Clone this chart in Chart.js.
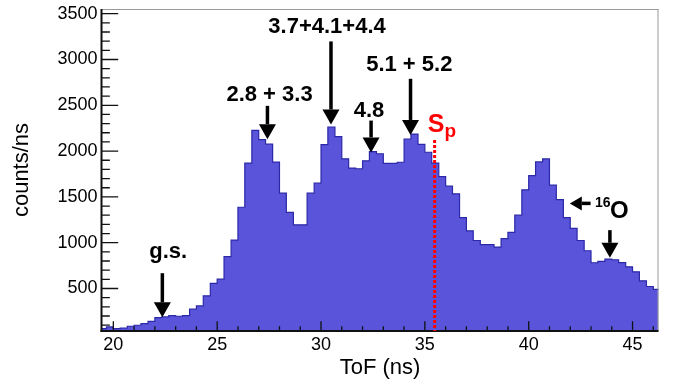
<!DOCTYPE html>
<html>
<head>
<meta charset="utf-8">
<script src="https://cdn.jsdelivr.net/npm/chart.js@4.4.0/dist/chart.umd.min.js"></script>
<style>
    html, body { margin: 0; padding: 0; background: #ffffff; }
    #wrap { width: 678px; height: 386px; }
</style>
</head>
<body>
<div id="wrap"><canvas id="tofChart" width="678" height="386"></canvas></div>
<script>
// Datos del histograma (borde inferior de cada bin en ns, cuentas/ns)
const binLow = [
    19.33, 19.67, 20.00, 20.33, 20.67, 21.00, 21.33, 21.67, 22.00, 22.33,
    22.67, 23.00, 23.33, 23.67, 24.00, 24.33, 24.67, 25.00, 25.33, 25.67,
    26.00, 26.33, 26.67, 27.00, 27.33, 27.67, 28.00, 28.33, 28.67, 29.00,
    29.33, 29.67, 30.00, 30.33, 30.67, 31.00, 31.33, 31.67, 32.00, 32.33,
    32.67, 33.00, 33.33, 33.67, 34.00, 34.33, 34.67, 35.00, 35.33, 35.67,
    36.00, 36.33, 36.67, 37.00, 37.33, 37.67, 38.00, 38.33, 38.67, 39.00,
    39.33, 39.67, 40.00, 40.33, 40.67, 41.00, 41.33, 41.67, 42.00, 42.33,
    42.67, 43.00, 43.33, 43.67, 44.00, 44.33, 44.67, 45.00, 45.33, 45.67,
    46.00
];
const binHigh = 46.33;
const counts = [
    62, 80, 62, 69, 88, 99, 117, 142, 182, 190,
    204, 197, 204, 274, 310, 420, 555, 602, 847, 1029,
    1387, 1869, 2226, 2124, 2075, 1880, 1540, 1332, 1195, 1195,
    1540, 1650, 2070, 2263, 2158, 1915, 1814, 1807, 1894, 1994,
    1971, 1865, 1865, 1878, 2132, 2186, 2074, 1987, 1869, 1722,
    1617, 1533, 1274, 1130, 1024, 978, 978, 952, 1044, 1113,
    1300, 1577, 1732, 1882, 1914, 1628, 1471, 1274, 1157, 1024,
    912, 781, 795, 821, 814, 783, 737, 682, 584, 522,
    491
];

// Marcas de los ejes
const xTicks = [20, 25, 30, 35, 40, 45];
const yTicks = [500, 1000, 1500, 2000, 2500, 3000, 3500];
const xMinorTicks = [21, 22, 23, 24, 26, 27, 28, 29, 31, 32, 33, 34, 36, 37, 38, 39, 41, 42, 43, 44, 46];
const yMinorTicks = [100, 200, 300, 400, 600, 700, 800, 900, 1100, 1200, 1300, 1400, 1600, 1700, 1800, 1900,
    2100, 2200, 2300, 2400, 2600, 2700, 2800, 2900, 3100, 3200, 3300, 3400];

// Anotaciones (coordenadas en unidades de datos: ns, cuentas)
const peakLabels = [
    { text: 'g.s.', x: 22.64, y: 837 },
    { text: '2.8 + 3.3', x: 27.52, y: 2549 },
    { text: '3.7+4.1+4.4', x: 30.29, y: 3289 },
    { text: '4.8', x: 32.31, y: 2377 },
    { text: '5.1 + 5.2', x: 34.25, y: 2876 }
];
const downArrows = [
    { x: 22.36, from: 667, to: 186 },
    { x: 27.42, from: 2494, to: 2130 },
    { x: 30.48, from: 3197, to: 2290 },
    { x: 32.41, from: 2333, to: 1985 },
    { x: 34.31, from: 2789, to: 2176 },
    { x: 43.91, from: 1137, to: 835 }
];
const sepEnergy = 35.47;   // S_p
const oxygenArrow = { from: 42.98, to: 41.98, y: 1429 };

const FONT = '"Liberation Sans", Arial, Helvetica, sans-serif';
Chart.defaults.font.family = FONT;

function drawArrow(ctx, x1, y1, x2, y2, headLen, headWidth, lineWidth) {
    const ang = Math.atan2(y2 - y1, x2 - x1);
    const cos = Math.cos(ang), sin = Math.sin(ang);
    const bx = x2 - headLen * cos, by = y2 - headLen * sin;
    ctx.lineWidth = lineWidth;
    ctx.beginPath();
    ctx.moveTo(x1, y1);
    ctx.lineTo(bx, by);
    ctx.stroke();
    ctx.beginPath();
    ctx.moveTo(x2, y2);
    ctx.lineTo(bx - sin * headWidth / 2, by + cos * headWidth / 2);
    ctx.lineTo(bx + sin * headWidth / 2, by - cos * headWidth / 2);
    ctx.closePath();
    ctx.fill();
}

// Plugin: marco estilo ROOT con ticks hacia dentro y anotaciones
const rootStyle = {
    id: 'rootStyle',
    afterDatasetsDraw(chart) {
        const ctx = chart.ctx;
        const area = chart.chartArea;
        const xs = chart.scales.x;
        const ys = chart.scales.y;
        ctx.save();

        // ticks
        ctx.strokeStyle = '#111';
        ctx.lineWidth = 1.3;
        const yLen = (area.right - area.left) * 0.03;
        const xLen = (area.bottom - area.top) * 0.03;
        ctx.beginPath();
        yTicks.forEach(v => {
            const py = ys.getPixelForValue(v);
            ctx.moveTo(area.left, py);
            ctx.lineTo(area.left + yLen, py);
        });
        yMinorTicks.forEach(v => {
            const py = ys.getPixelForValue(v);
            ctx.moveTo(area.left, py);
            ctx.lineTo(area.left + yLen / 2, py);
        });
        xTicks.forEach(v => {
            const px = xs.getPixelForValue(v);
            ctx.moveTo(px, area.bottom);
            ctx.lineTo(px, area.bottom - xLen);
        });
        xMinorTicks.forEach(v => {
            const px = xs.getPixelForValue(v);
            ctx.moveTo(px, area.bottom);
            ctx.lineTo(px, area.bottom - xLen / 2);
        });
        ctx.stroke();

        // marco: arriba y derecha en gris, ejes en negro
        ctx.fillStyle = '#999';
        ctx.fillRect(area.left, area.top, area.right - area.left, 1);
        ctx.fillRect(area.right - 1, area.top, 1, area.bottom - area.top);
        ctx.fillStyle = '#111';
        ctx.fillRect(area.left - 1, area.top, 2, area.bottom - area.top + 1);
        ctx.fillRect(area.left - 1, area.bottom - 1, area.right - area.left + 1, 2);

        // línea S_p
        const sx = xs.getPixelForValue(sepEnergy);
        ctx.strokeStyle = '#ff0000';
        ctx.lineWidth = 3;
        ctx.setLineDash([3, 2]);
        ctx.beginPath();
        ctx.moveTo(sx, ys.getPixelForValue(2122));
        ctx.lineTo(sx, area.bottom);
        ctx.stroke();
        ctx.setLineDash([]);

        ctx.fillStyle = '#ff0000';
        ctx.textAlign = 'left';
        ctx.textBaseline = 'alphabetic';
        ctx.font = 'bold 25px ' + FONT;
        const sLeft = xs.getPixelForValue(35.14);
        const sBase = ys.getPixelForValue(2213);
        ctx.fillText('S', sLeft, sBase);
        const sW = ctx.measureText('S').width;
        ctx.font = 'bold 19px ' + FONT;
        ctx.fillText('p', sLeft + sW, sBase + 5);

        // flechas y etiquetas de picos
        ctx.fillStyle = '#000';
        ctx.strokeStyle = '#000';
        downArrows.forEach(d => {
            const px = xs.getPixelForValue(d.x);
            drawArrow(ctx, px, ys.getPixelForValue(d.from), px, ys.getPixelForValue(d.to), 15, 17, 3.5);
        });
        ctx.font = 'bold 22px ' + FONT;
        ctx.textAlign = 'center';
        peakLabels.forEach(l => {
            ctx.fillText(l.text, xs.getPixelForValue(l.x), ys.getPixelForValue(l.y));
        });

        // 16O
        const oy = ys.getPixelForValue(oxygenArrow.y);
        drawArrow(ctx, xs.getPixelForValue(oxygenArrow.from), oy, xs.getPixelForValue(oxygenArrow.to), oy, 12, 14, 3.5);
        ctx.textAlign = 'left';
        ctx.font = 'bold 14px ' + FONT;
        ctx.fillText('16', xs.getPixelForValue(43.19), ys.getPixelForValue(1386));
        ctx.font = 'bold 24px ' + FONT;
        ctx.fillText('O', xs.getPixelForValue(43.91), ys.getPixelForValue(1265));

        ctx.restore();
    }
};

const points = binLow.map((v, i) => ({ x: v, y: counts[i] }));
points.push({ x: binHigh, y: counts[counts.length - 1] });

new Chart(document.getElementById('tofChart'), {
    type: 'line',
    data: {
        datasets: [{
            data: points,
            stepped: true,
            fill: 'origin',
            backgroundColor: '#5954d9',
            borderColor: '#2c29a8',
            borderWidth: 1.2,
            pointRadius: 0
        }]
    },
    options: {
        responsive: false,
        animation: false,
        layout: { padding: { top: 9, right: 19.5, bottom: 0, left: 0 } },
        plugins: {
            legend: { display: false },
            tooltip: { enabled: false }
        },
        scales: {
            x: {
                type: 'linear',
                min: 19.43,
                max: 46.25,
                afterBuildTicks: s => { s.ticks = xTicks.map(v => ({ value: v })); },
                afterFit: s => { s.height = 55; s.paddingLeft = 0; s.paddingRight = 0; },
                grid: { display: false, drawTicks: false },
                border: { display: false },
                ticks: {
                    color: '#000', padding: 3, maxRotation: 0, autoSkip: false,
                    font: { size: 18 }, callback: v => String(v)
                },
                title: {
                    display: true, text: 'ToF (ns)', color: '#000',
                    font: { size: 22 }, padding: { top: 0, bottom: 4.8 }
                }
            },
            y: {
                min: 36,
                max: 3551,
                afterBuildTicks: s => { s.ticks = yTicks.map(v => ({ value: v })); },
                afterFit: s => { s.width = 101.5; s.paddingTop = 0; s.paddingBottom = 0; },
                grid: { display: false, drawTicks: false },
                border: { display: false },
                ticks: { color: '#000', padding: 4, font: { size: 18 }, callback: v => String(v) },
                title: {
                    display: true, text: 'counts/ns', color: '#000',
                    font: { size: 22 }, padding: { top: 8.3, bottom: 0 }
                }
            }
        }
    },
    plugins: [rootStyle]
});
</script>
</body>
</html>
